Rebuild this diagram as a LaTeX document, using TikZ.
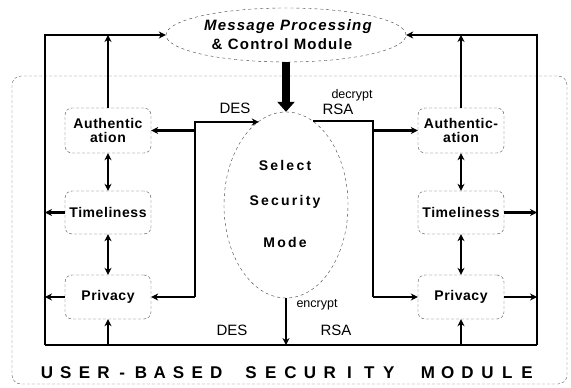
\documentclass[tikz,border=0pt]{standalone}
\usepackage{fontspec}
\setmainfont{Liberation Sans}
\newfontfamily\boxfont[LetterSpace=4]{Liberation Sans}
\newfontfamily\modfont[LetterSpace=8]{Liberation Sans}
\newfontfamily\selfont[LetterSpace=16]{Liberation Sans}
\usetikzlibrary{arrows.meta,shapes.geometric}
\begin{document}
\begin{tikzpicture}[x=1pt,y=-1pt,
  thk/.style={line width=2.8pt},
  arr/.style={-{Stealth[length=7pt,width=7pt]}},
  darr/.style={{Stealth[length=7pt,width=7pt]}-{Stealth[length=7pt,width=7pt]}},
  modbox/.style={draw=black!70, densely dashed, thin, rounded corners=7pt,
     minimum width=86pt, inner sep=0pt, align=center,
     font=\boxfont\bfseries\fontsize{14}{14}\selectfont},
  ell/.style={ellipse, draw=black!75, dashed, thin, inner sep=0pt},
  lbl/.style={inner sep=0pt, font=\fontsize{15}{15}\selectfont},
  sml/.style={inner sep=0pt, font=\fontsize{12.5}{12.5}\selectfont},
  sel/.style={inner sep=0pt, font=\selfont\bfseries\fontsize{14}{14}\selectfont},
  bot/.style={inner sep=0pt, anchor=base, font=\bfseries\fontsize{17}{17}\selectfont}]
\useasboundingbox (0,0) rectangle (571,388);
% outer module frame
\draw[black!60, densely dashed, thin, rounded corners=9pt] (12,76) rectangle (567,384);
% ellipses
\node[ell, minimum width=240pt, minimum height=54pt] (mp) at (286,35) {};
\node[inner sep=0pt, font=\modfont\bfseries\itshape\fontsize{15}{15}\selectfont] (mpt1) at (288,27) {Message Processing};
\node[inner sep=0pt, font=\modfont\bfseries\fontsize{15}{15}\selectfont] (mpt2) at (282,44) {\& Control Module};
\node[ell, minimum width=124pt, minimum height=186pt] (ss) at (286,205) {};
\node[sel] (s1) at (285,165) {Select};
\node[sel] (s2) at (285,202) {Security};
\node[sel] (s3) at (285,242) {Mode};
% boxes
\node[modbox, minimum height=45pt] (aL) at (108,130.5) {Authentic\\ation};
\node[modbox, minimum height=43pt] (tL) at (108,212.5) {Timeliness};
\node[modbox, minimum height=44pt] (pL) at (108,297) {Privacy};
\node[modbox, minimum height=45pt] (aR) at (461,130.5) {Authentic-\\ation};
\node[modbox, minimum height=43pt] (tR) at (461,212.5) {Timeliness};
\node[modbox, minimum height=44pt] (pR) at (461,297) {Privacy};
% frame coordinates
\coordinate (tl) at (45,35);
\coordinate (bl) at (45,345);
\coordinate (tr) at (537,35);
\coordinate (br) at (537,345);
\coordinate (d1) at (195,122);
\coordinate (d2) at (195,297);
\coordinate (r1) at (373,121);
\coordinate (r2) at (373,297);
% outer loops
\draw[thk,arr] (bl) -- (tl) -- (mp.west);
\draw[thk,arr] (br) -- (tr) -- (mp.east);
\draw[thk] (bl) -- (br);
\draw[thk,arr] (aL.north) -- (aL.north |- tl);
\draw[thk,arr] (aR.north) -- (aR.north |- tr);
\draw[thk,darr] (aL.south) -- (tL.north);
\draw[thk,darr] (tL.south) -- (pL.north);
\draw[thk,darr] (aR.south) -- (tR.north);
\draw[thk,darr] (tR.south) -- (pR.north);
\draw[thk,arr] (tL.west) -- (tL.west -| bl);
\draw[thk,arr] (pL.west) -- (pL.west -| bl);
\draw[thk,arr] (tR.east) -- (tR.east -| br);
\draw[thk,arr] (pR.east) -- (pR.east -| br);
\draw[thk,arr] (pL.south |- bl) -- (pL.south);
\draw[thk,arr] (pR.south |- br) -- (pR.south);
% DES side
\draw[thk,arr] (d2) -- (d1) -- (d1 -| ss.108);
\draw[thk,arr] (d2) -- (pL.east);
\draw[thk,arr] (aL.east -| d1) -- (aL.east);
% RSA side
\draw[thk] (r1 -| ss.72) -- (r1) -- (r2);
\draw[thk,arr] (r2) -- (pR.west);
\draw[thk,arr] (aR.west -| r1) -- (aR.west);
% encrypt output
\draw[thk,arr] (ss.south) -- (ss.south |- bl);
% big arrow
\draw[line width=8pt,-{Triangle[length=10pt,width=17pt]}] (mp.south) -- (ss.north);
% labels
\node[lbl] (lds1) at (235,108) {DES};
\node[sml] (ldec) at (352,95) {decrypt};
\node[lbl] (lrs1) at (338,109) {RSA};
\node[sml] (lenc) at (317,305) {encrypt};
\node[lbl] (lds2) at (232,330) {DES};
\node[lbl] (lrs2) at (336,330) {RSA};
% bottom title
\foreach \c [count=\i] in {U,S,E,R,-,B,A,S,E,D}
  \node[bot] (ua\i) at ({47+18.8*(\i-1)},378) {\c};
\foreach \c [count=\i] in {S,E,C,U,R,I,T,Y}
  \node[bot] (ub\i) at ({251+19.7*(\i-1)},378) {\c};
\foreach \c [count=\i] in {M,O,D,U,L,E}
  \node[bot] (uc\i) at ({428+19.8*(\i-1)},378) {\c};
\end{tikzpicture}
\end{document}
